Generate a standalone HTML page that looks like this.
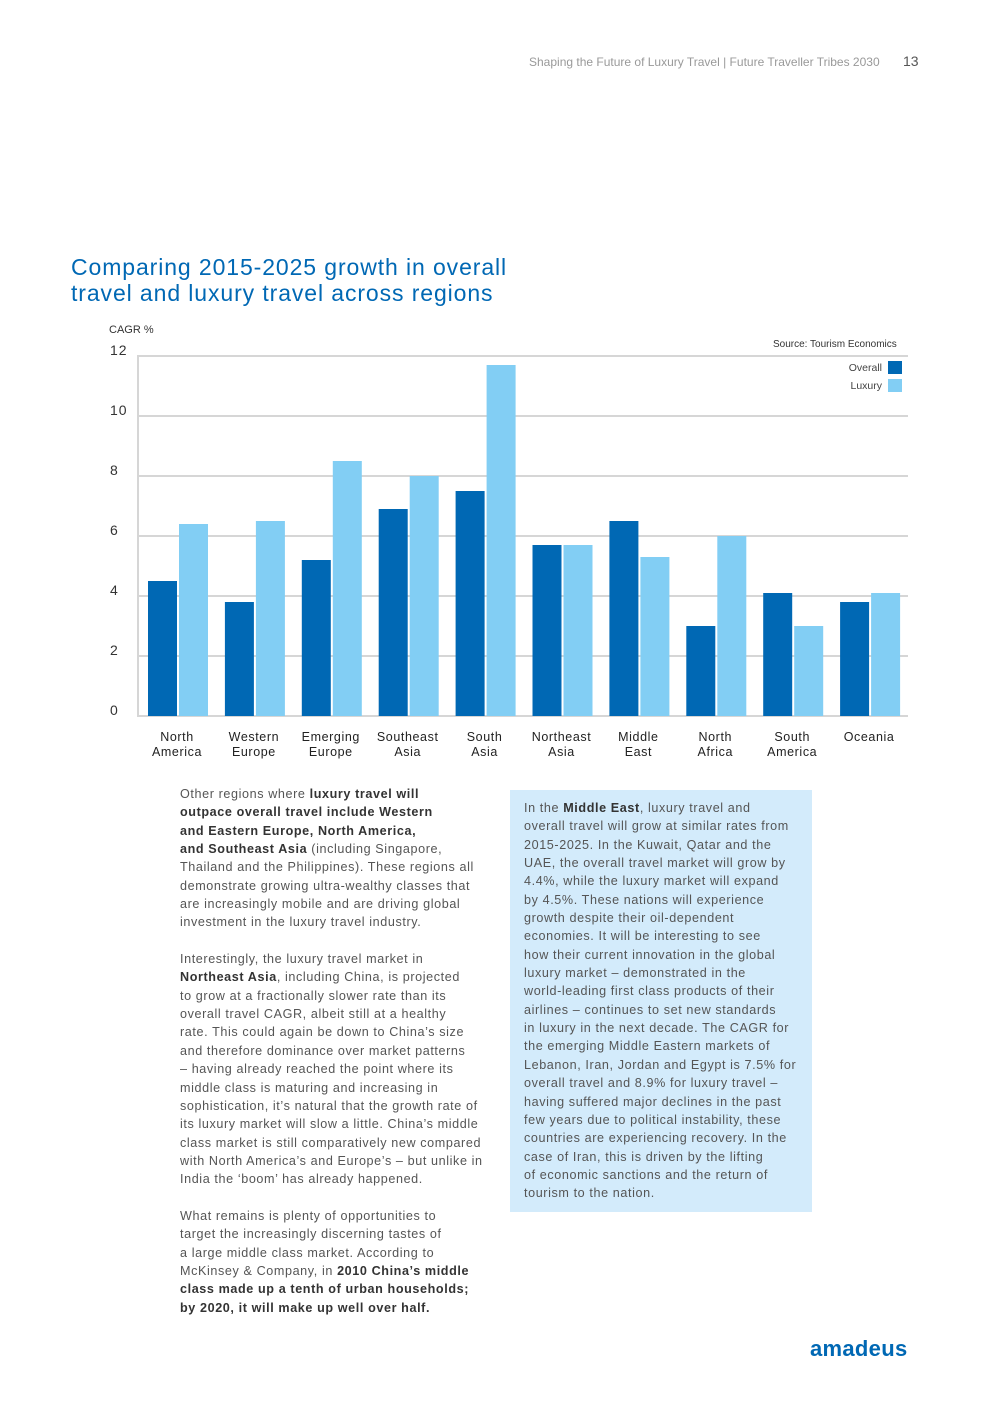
<!DOCTYPE html>
<html><head><meta charset="utf-8"><style>
body{margin:0;width:992px;height:1403px;background:#fff;position:relative;font-family:"Liberation Sans",sans-serif;overflow:hidden}
.abs{position:absolute}
.txt{font-size:12.6px;line-height:18.35px;color:#555;letter-spacing:0.6px}
.txt b{color:#333}
</style></head><body>
<div class="abs" style="left:529px;top:55px;font-size:12px;color:#999">Shaping the Future of Luxury Travel | Future Traveller Tribes 2030</div>
<div class="abs" style="left:903px;top:53px;font-size:14px;color:#555">13</div>
<div class="abs" style="left:71px;top:254px;font-size:23px;line-height:26px;color:#0068b4;letter-spacing:0.9px">Comparing 2015-2025 growth in overall<br>travel and luxury travel across regions</div>
<svg class="abs" style="left:0;top:0" width="992" height="800" id="chart">
<text x="109" y="333" font-size="11" fill="#333">CAGR %</text>
<text x="773" y="347" font-size="10" fill="#333">Source: Tourism Economics</text>
<g id="grid"></g><g id="bars"></g><g id="labels"></g>
<g>
<text x="882" y="371" font-size="10.5" fill="#444" text-anchor="end">Overall</text>
<rect x="888" y="361" width="14" height="13" fill="#0068b4"/>
<text x="882" y="389" font-size="10.5" fill="#444" text-anchor="end">Luxury</text>
<rect x="888" y="379" width="14" height="13" fill="#82cef4"/>
</g>
</svg>
<div class="abs txt" style="left:180px;top:785px;width:330px">
Other regions where <b>luxury travel will<br>outpace overall travel include Western<br>and Eastern Europe, North America,<br>and Southeast Asia</b> (including Singapore,<br>Thailand and the Philippines). These regions all<br>demonstrate growing ultra-wealthy classes that<br>are increasingly mobile and are driving global<br>investment in the luxury travel industry.<br><br>
Interestingly, the luxury travel market in<br><b>Northeast Asia</b>, including China, is projected<br>to grow at a fractionally slower rate than its<br>overall travel CAGR, albeit still at a healthy<br>rate. This could again be down to China’s size<br>and therefore dominance over market patterns<br>– having already reached the point where its<br>middle class is maturing and increasing in<br>sophistication, it’s natural that the growth rate of<br>its luxury market will slow a little. China’s middle<br>class market is still comparatively new compared<br>with North America’s and Europe’s – but unlike in<br>India the ‘boom’ has already happened.<br><br>
What remains is plenty of opportunities to<br>target the increasingly discerning tastes of<br>a large middle class market. According to<br>McKinsey &amp; Company, in <b>2010 China’s middle<br>class made up a tenth of urban households;<br>by 2020, it will make up well over half.</b></div>
<div class="abs txt" style="left:510px;top:790px;width:274px;height:404px;background:#d3ebfb;padding:9px 14px;white-space:nowrap">
In the <b>Middle East</b>, luxury travel and<br>overall travel will grow at similar rates from<br>2015-2025. In the Kuwait, Qatar and the<br>UAE, the overall travel market will grow by<br>4.4%, while the luxury market will expand<br>by 4.5%. These nations will experience<br>growth despite their oil-dependent<br>economies. It will be interesting to see<br>how their current innovation in the global<br>luxury market – demonstrated in the<br>world-leading first class products of their<br>airlines – continues to set new standards<br>in luxury in the next decade. The CAGR for<br>the emerging Middle Eastern markets of<br>Lebanon, Iran, Jordan and Egypt is 7.5% for<br>overall travel and 8.9% for luxury travel –<br>having suffered major declines in the past<br>few years due to political instability, these<br>countries are experiencing recovery. In the<br>case of Iran, this is driven by the lifting<br>of economic sanctions and the return of<br>tourism to the nation.</div>
<div class="abs" style="left:810px;top:1336px;font-size:22px;font-weight:bold;color:#0068b4;letter-spacing:0.3px">amadeus</div>
<script>
const categories=[["North","America"],["Western","Europe"],["Emerging","Europe"],["Southeast","Asia"],["South","Asia"],["Northeast","Asia"],["Middle","East"],["North","Africa"],["South","America"],["Oceania",""]];
const overall=[4.5,3.8,5.2,6.9,7.5,5.7,6.5,3.0,4.1,3.8];
const luxury=[6.4,6.5,8.5,8.0,11.7,5.7,5.3,6.0,3.0,4.1];
const yTicks=[0,2,4,6,8,10,12];
const NS="http://www.w3.org/2000/svg";
const y=v=>716-v*30;
const gx=i=>148+i*76.9;
function mk(tag,attrs,parent){const e=document.createElementNS(NS,tag);for(const k in attrs)e.setAttribute(k,attrs[k]);parent.appendChild(e);return e;}
const grid=document.getElementById('grid'),bars=document.getElementById('bars'),labels=document.getElementById('labels');
yTicks.forEach(t=>{
 const l=mk('line',{x1:138,x2:908,y1:y(t),y2:y(t),stroke:'#d6d6d6','stroke-width':2},grid);
 
 
 const tx=mk('text',{x:110,y:y(t)-1,'font-size':14,fill:'#333','letter-spacing':'1'},grid);tx.textContent=t;
 
 
});
const ax=mk('line',{x1:138,x2:138,y1:355,y2:717,stroke:'#d6d6d6','stroke-width':2},grid);


categories.forEach((c,i)=>{
 const b1=mk('rect',{x:gx(i),y:y(overall[i]),width:29,height:overall[i]*30,fill:'#0068b4'},bars);
 
 
 const b2=mk('rect',{x:gx(i)+31,y:y(luxury[i]),width:29,height:luxury[i]*30,fill:'#82cef4'},bars);
 
 
 c.forEach((s,j)=>{const t=mk('text',{x:gx(i)+29,y:741+j*15,'font-size':12.5,fill:'#222','text-anchor':'middle','letter-spacing':'0.6'},labels);t.textContent=s;
 
 });
});
</script>
</body></html>
